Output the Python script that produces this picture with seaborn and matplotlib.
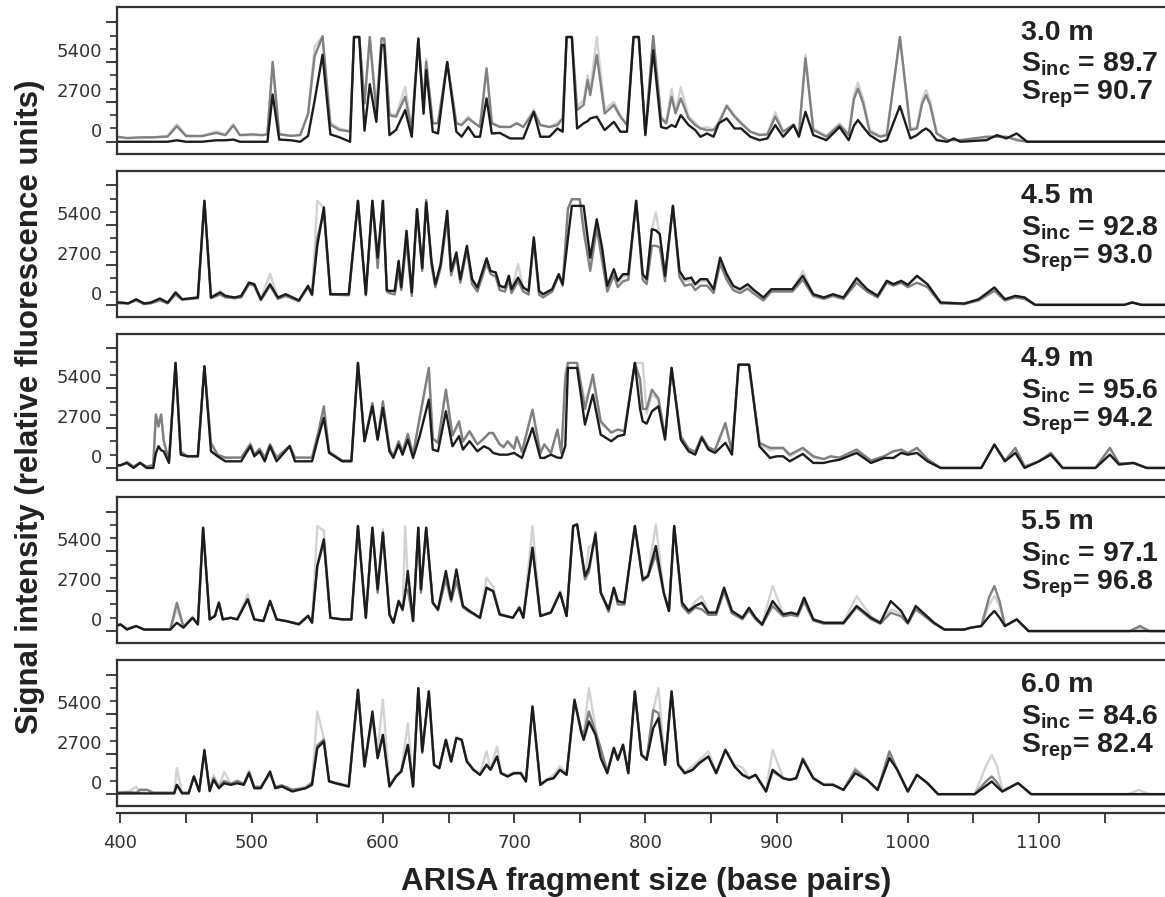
import numpy as np
import pandas as pd
import matplotlib
matplotlib.use("Agg")
import matplotlib.pyplot as plt
import seaborn as sns
from matplotlib.transforms import ScaledTranslation

# ---------------- data ----------------
DEPTHS = ["3.0 m", "4.5 m", "4.9 m", "5.5 m", "6.0 m"]
S_INC = ["89.7", "92.8", "95.6", "97.1", "84.6"]
S_REP = ["90.7", "93.0", "94.2", "96.8", "82.4"]
X_MAJOR = [400, 500, 600, 700, 800, 900, 1000, 1100]
X_MINOR = [450, 550, 650, 750, 850, 950, 1050, 1150]
Y_LABELED = [0, 2700, 5400]
Y_MAJOR = [0, 2700, 5400, 8100]
Y_MINOR = [900, 1800, 3600, 4500, 6300, 7200]
REPLICATES = ["light", "gray", "black"]   # drawing order

# rows: (fragment size bp, black trace, mid-gray trace, light-gray trace)
TRACE_3_0 = [
    (397, 0, 350, 300), (405, 0, 250, 250), (415, 0, 300, 250), (425, 0, 300, 300),
    (436, 0, 350, 400), (443, 100, 1060, 1200), (450, 0, 380, 450), (462, 0, 380, 400),
    (473, 100, 600, 700), (480, 100, 450, 500), (486, 150, 1100, 1200), (491, 0, 450, 450),
    (500, 0, 500, 450), (508, 0, 450, 450), (512, 0, 500, 550), (516, 3200, 5400, 5400),
    (521, 150, 500, 550), (530, 100, 400, 400), (537, 0, 450, 450), (543, 400, 1900, 1900),
    (548, 2800, 5800, 6440), (554, 5900, 7150, 7150), (560, 500, 1150, 1300), (567, 300, 800, 900),
    (575, 0, 700, 700), (578, 7100, 7100, 7100), (582, 7100, 7100, 7100), (586, 750, 2600, 2600),
    (590, 3900, 7100, 7100), (595, 1350, 2000, 2200), (599, 6550, 7000, 7000), (601, 6550, 7000, 7000),
    (605, 450, 1800, 1900), (610, 800, 1700, 1800), (617, 2150, 3050, 3700), (622, 340, 800, 900),
    (627, 7000, 6940, 7000), (631, 1900, 2500, 2500), (633, 4860, 5420, 5600), (638, 680, 1250, 1250),
    (642, 560, 1250, 1300), (649, 5400, 5400, 5400), (656, 680, 1250, 1250), (660, 340, 1130, 1200),
    (665, 1000, 1580, 1700), (670, 340, 1250, 1250), (674, 340, 1000, 1000), (679, 2940, 4970, 4970),
    (683, 560, 1250, 1300), (689, 600, 1000, 1050), (697, 225, 1000, 1000), (702, 225, 1250, 1300),
    (707, 225, 1000, 1000), (715, 2030, 2030, 2200), (720, 340, 1130, 1130), (727, 340, 1000, 1000),
    (733, 900, 1130, 1300), (737, 680, 1580, 1600), (740, 7100, 7100, 7100), (744, 7100, 7100, 7100),
    (748, 900, 2150, 2400), (753, 1250, 2500, 2800), (756, 1400, 4180, 4500), (758, 1580, 3160, 3400),
    (763, 1700, 5880, 7100), (769, 790, 1920, 2200), (776, 1350, 2490, 2700), (781, 680, 1700, 1800),
    (786, 680, 1130, 1130), (791, 7100, 7100, 7100), (795, 7100, 7100, 7100), (800, 450, 560, 600),
    (806, 6200, 7160, 7160), (812, 1000, 1580, 1700), (816, 900, 1250, 1400), (820, 1130, 3050, 3600),
    (823, 1000, 1920, 2000), (827, 1800, 2940, 3680), (833, 1130, 1580, 1700), (838, 790, 1130, 1300),
    (842, 340, 900, 900), (847, 560, 790, 1000), (852, 340, 790, 800), (856, 1250, 1250, 1400),
    (862, 1580, 2420, 2500), (868, 900, 1700, 1800), (873, 900, 1250, 1300), (880, 340, 680, 700),
    (887, 110, 450, 500), (893, 225, 500, 500), (899, 1130, 1700, 2000), (905, 340, 680, 700),
    (913, 1130, 1130, 1200), (917, 340, 450, 500), (922, 2030, 5650, 5900), (928, 450, 790, 900),
    (938, 110, 340, 400), (948, 1000, 1130, 1250), (955, 110, 450, 500), (959, 1100, 2900, 3200),
    (962, 1470, 3600, 4000), (966, 1000, 2600, 2900), (971, 450, 680, 800), (979, 0, 340, 400),
    (984, 110, 450, 500), (994, 2420, 7100, 7100), (1002, 225, 790, 900), (1007, 450, 900, 1000),
    (1011, 750, 2600, 2900), (1014, 900, 3160, 3500), (1017, 700, 2500, 2800), (1022, 110, 560, 600),
    (1030, 0, 110, 100), (1035, 225, 110, 150), (1040, 0, 110, 100), (1060, 110, 340, 300),
    (1068, 450, 340, 350), (1075, 225, 340, 300), (1083, 560, 110, 200), (1091, 0, 0, 0),
    (1196, 0, 0, 0),
]

TRACE_4_5 = [
    (397, 150, 150, 150), (400, 160, 100, 160), (406, 100, 100, 100), (412, 380, 300, 350),
    (418, 100, 50, 100), (423, 150, 100, 150), (430, 430, 300, 400), (436, 150, 100, 150),
    (442, 840, 700, 900), (447, 380, 350, 380), (459, 500, 450, 500), (464, 7050, 7050, 7050),
    (469, 500, 450, 500), (476, 840, 700, 950), (480, 610, 500, 600), (487, 500, 450, 500),
    (492, 610, 500, 600), (498, 1510, 1400, 1500), (502, 1400, 1300, 1400), (507, 380, 300, 400),
    (514, 1400, 1300, 2100), (520, 500, 400, 500), (526, 720, 600, 700), (536, 300, 250, 300),
    (543, 1290, 1200, 1300), (546, 700, 650, 700), (550, 4000, 4500, 7050), (555, 6600, 6300, 6600),
    (560, 720, 700, 750), (574, 720, 650, 700), (581, 7050, 7050, 7050), (587, 720, 650, 700),
    (592, 7050, 7050, 7050), (596, 3200, 2500, 3200), (600, 7050, 7050, 7050), (603, 1000, 900, 1000),
    (605, 950, 800, 900), (609, 950, 700, 900), (612, 2980, 2300, 2980), (614, 1200, 1000, 1100),
    (618, 5020, 4300, 5000), (622, 840, 600, 800), (626, 6490, 6400, 6490), (630, 2500, 2300, 2500),
    (633, 6940, 7100, 7000), (637, 2980, 2700, 2900), (640, 1400, 1200, 1300), (644, 2760, 2500, 2700),
    (649, 6370, 5800, 6300), (652, 2300, 2000, 2300), (656, 3550, 3300, 3500), (659, 1740, 1500, 1700),
    (664, 4000, 3700, 4000), (668, 1740, 1400, 1700), (672, 1180, 900, 1100), (679, 3160, 2800, 3100),
    (682, 2300, 2100, 2300), (686, 2190, 1900, 2200), (689, 1290, 1000, 1200), (693, 1180, 900, 1100),
    (696, 1970, 1700, 2000), (698, 1060, 800, 1000), (703, 1850, 1600, 2760), (707, 1180, 900, 1100),
    (711, 950, 700, 900), (715, 4570, 4400, 4570), (719, 950, 700, 900), (722, 720, 500, 700),
    (729, 1060, 900, 1000), (734, 2080, 2000, 2100), (737, 1400, 1300, 1400), (741, 4500, 6500, 6500),
    (744, 6710, 7160, 7160), (750, 6710, 7160, 7160), (753, 6710, 5000, 5500), (758, 3200, 2300, 2600),
    (763, 5800, 5200, 5500), (767, 3890, 3000, 3500), (771, 1290, 900, 1200), (776, 2420, 2000, 2300),
    (779, 1630, 1200, 1500), (783, 2080, 1600, 1900), (787, 2080, 1700, 2000), (793, 7050, 7050, 7050),
    (798, 2080, 1700, 2000), (801, 1740, 1400, 1700), (805, 5130, 4000, 5130), (808, 5050, 4000, 6260),
    (811, 4800, 3900, 4700), (815, 1970, 1600, 1900), (821, 6710, 6710, 6710), (826, 2300, 1900, 2200),
    (830, 1740, 1300, 1600), (835, 1850, 1400, 1700), (838, 1400, 1000, 1300), (842, 1740, 1300, 1600),
    (847, 1740, 1300, 1600), (852, 1060, 800, 1000), (857, 3200, 2800, 3100), (862, 2080, 1700, 2000),
    (867, 1290, 1000, 1200), (872, 1060, 800, 1000), (878, 1400, 1100, 1300), (882, 1060, 800, 1000),
    (890, 500, 300, 400), (896, 1060, 900, 1000), (903, 1060, 900, 1000), (912, 1060, 900, 1000),
    (920, 1970, 1700, 2300), (928, 720, 600, 700), (936, 500, 400, 500), (943, 720, 600, 700),
    (951, 500, 400, 500), (961, 1810, 1500, 1700), (969, 1060, 900, 1000), (977, 610, 500, 600),
    (984, 1630, 1500, 1630), (989, 1400, 1300, 1400), (995, 1630, 1500, 1600), (1000, 1350, 1200, 1350),
    (1007, 1970, 1500, 1900), (1015, 1400, 1200, 1400), (1025, 160, 100, 150), (1043, 90, 50, 90),
    (1054, 380, 300, 350), (1066, 1180, 950, 1100), (1074, 380, 300, 380), (1082, 610, 500, 600),
    (1089, 500, 400, 500), (1097, 0, 0, 0), (1165, 0, 0, 0), (1171, 160, 160, 160),
    (1178, 0, 0, 0), (1196, 0, 0, 0),
]

TRACE_4_9 = [
    (397, 180, 180, 180), (400, 180, 180, 200), (405, 340, 400, 350), (410, 0, 100, 50),
    (415, 340, 350, 350), (420, 0, 100, 50), (425, 0, 200, 100), (427, 1000, 3620, 3620),
    (429, 1470, 2800, 3000), (431, 1200, 3620, 3620), (433, 1130, 1800, 1900), (437, 340, 500, 500),
    (442, 7120, 7120, 7120), (446, 900, 1100, 1000), (451, 790, 800, 800), (459, 790, 800, 800),
    (464, 6890, 6890, 6890), (469, 1130, 1700, 1500), (474, 790, 900, 900), (480, 450, 700, 700),
    (492, 450, 700, 700), (499, 1470, 1600, 1700), (502, 790, 900, 900), (506, 1130, 1300, 1300),
    (510, 450, 700, 700), (514, 1470, 1600, 1600), (519, 450, 700, 700), (529, 1470, 1500, 1500),
    (533, 450, 700, 700), (546, 450, 700, 700), (551, 2150, 2500, 2400), (555, 3390, 4180, 4000),
    (559, 1020, 1100, 1100), (569, 450, 500, 500), (576, 450, 500, 500), (581, 7120, 7120, 7120),
    (586, 1810, 1810, 1810), (592, 4180, 4400, 4300), (596, 1920, 1920, 1920), (600, 4070, 4520, 4400),
    (605, 1130, 1300, 1300), (608, 680, 800, 800), (612, 1580, 1800, 1800), (615, 900, 1100, 1100),
    (619, 1920, 2300, 2200), (623, 680, 900, 900), (628, 2150, 3390, 3300), (635, 4630, 6780, 6780),
    (638, 1250, 2000, 2000), (642, 1130, 1700, 1700), (648, 3840, 5310, 5310), (653, 1470, 2200, 2200),
    (658, 2150, 3160, 3000), (661, 1250, 1800, 1800), (666, 1810, 2490, 2400), (672, 1130, 1600, 1600),
    (677, 1470, 2000, 2000), (681, 1300, 2370, 2370), (684, 1020, 2370, 2300), (689, 900, 1600, 1600),
    (692, 900, 1400, 1500), (695, 900, 1800, 1800), (700, 1020, 1300, 1400), (702, 900, 2100, 2100),
    (706, 680, 1100, 1100), (714, 2710, 3950, 3950), (720, 680, 1000, 1000), (723, 680, 1600, 1600),
    (728, 900, 1000, 1000), (733, 700, 2600, 2600), (736, 680, 1000, 1000), (739, 1500, 6000, 6500),
    (741, 6780, 7120, 7120), (748, 6780, 7120, 7120), (754, 2940, 4000, 4500), (760, 4970, 6330, 6000),
    (766, 2260, 3160, 3000), (774, 1810, 2400, 2400), (779, 2150, 2600, 2600), (784, 2260, 2490, 2500),
    (792, 7120, 7120, 7120), (796, 4000, 6000, 7120), (798, 3160, 4000, 7120), (801, 3000, 4000, 3700),
    (805, 3840, 5310, 5000), (810, 4180, 4700, 4600), (815, 1920, 2100, 2100), (820, 6780, 6780, 6780),
    (827, 1920, 2150, 2100), (833, 1130, 1300, 1300), (838, 900, 1100, 1100), (843, 2030, 2150, 2100),
    (848, 1250, 1400, 1400), (853, 1020, 1200, 1200), (861, 1700, 3050, 2900), (866, 900, 1100, 1100),
    (871, 7000, 7000, 7000), (879, 7000, 7000, 7000), (887, 1470, 1700, 1600), (895, 680, 1360, 1200),
    (900, 790, 1360, 1300), (905, 790, 1360, 1300), (910, 450, 900, 800), (920, 950, 1360, 1300),
    (928, 340, 790, 700), (936, 340, 600, 600), (941, 450, 790, 750), (948, 560, 700, 700),
    (961, 1020, 1250, 1200), (972, 340, 500, 500), (982, 680, 800, 800), (989, 680, 1130, 1100),
    (995, 1020, 1250, 1200), (1000, 900, 1000, 1000), (1007, 1020, 1360, 1300), (1015, 450, 600, 600),
    (1025, 0, 0, 0), (1056, 0, 0, 0), (1066, 1580, 1580, 1580), (1074, 450, 500, 500),
    (1082, 1020, 1360, 1300), (1089, 0, 100, 100), (1100, 450, 450, 450), (1109, 900, 1020, 1000),
    (1118, 0, 0, 0), (1143, 0, 0, 0), (1154, 900, 1360, 1300), (1161, 230, 300, 300),
    (1172, 340, 340, 340), (1182, 0, 0, 0), (1196, 0, 0, 0),
]

TRACE_5_5 = [
    (397, 340, 400, 400), (400, 450, 450, 450), (405, 100, 150, 150), (412, 340, 340, 340),
    (418, 100, 100, 100), (438, 100, 100, 100), (443, 560, 1920, 1500), (448, 230, 300, 300),
    (455, 900, 900, 1000), (459, 450, 450, 450), (463, 7000, 7000, 7000), (468, 790, 790, 800),
    (472, 1020, 1020, 1100), (475, 1920, 1920, 2000), (478, 790, 790, 800), (484, 900, 900, 900),
    (489, 790, 790, 800), (497, 2150, 2150, 2500), (502, 790, 790, 800), (509, 680, 680, 700),
    (514, 2030, 2030, 2100), (519, 790, 790, 800), (526, 680, 680, 700), (536, 450, 500, 500),
    (543, 1020, 1020, 1100), (546, 560, 600, 600), (550, 4400, 4400, 7120), (555, 6220, 6000, 6800),
    (560, 900, 900, 900), (569, 790, 790, 800), (576, 790, 790, 800), (581, 7120, 7120, 7120),
    (587, 900, 900, 900), (592, 7000, 7000, 7000), (596, 2830, 2600, 2900), (600, 6670, 6670, 6900),
    (605, 1130, 1100, 1200), (608, 560, 560, 600), (612, 2030, 2000, 2100), (615, 1470, 1400, 1500),
    (617, 2500, 2800, 7100), (619, 4070, 2800, 3500), (623, 680, 680, 700), (627, 7000, 7000, 7000),
    (629, 2830, 2600, 2800), (633, 7000, 7000, 7000), (638, 1920, 1920, 1900), (642, 1470, 1400, 1500),
    (648, 4070, 3500, 3700), (652, 2150, 2000, 2100), (656, 4180, 3400, 3500), (661, 1700, 1600, 1700),
    (666, 1360, 1300, 1400), (674, 900, 900, 900), (679, 2940, 2900, 3610), (684, 2710, 2700, 3000),
    (689, 1130, 1100, 1200), (699, 900, 900, 900), (704, 1580, 1580, 1700), (707, 900, 900, 900),
    (714, 5650, 5650, 7100), (720, 1020, 1020, 1100), (728, 1250, 1250, 1300), (735, 2600, 2600, 2700),
    (740, 1020, 1020, 1100), (745, 7120, 7120, 7120), (748, 7230, 7230, 7230), (754, 3730, 3500, 3700),
    (757, 4290, 4000, 5700), (762, 6560, 6700, 6000), (766, 2600, 2600, 2700), (772, 1470, 1300, 1500),
    (776, 2940, 2900, 2940), (779, 2030, 1800, 2000), (784, 1920, 1800, 1900), (792, 7120, 7120, 7120),
    (798, 3500, 3400, 3600), (802, 3730, 3700, 3800), (808, 5760, 5200, 7230), (814, 2600, 2600, 2700),
    (818, 1360, 1360, 1400), (822, 7120, 7120, 7120), (828, 1920, 1700, 1800), (833, 1360, 1200, 1400),
    (838, 1700, 1600, 2000), (843, 1920, 1470, 2370), (848, 1250, 1100, 1300), (854, 1250, 1100, 1300),
    (860, 2940, 2700, 2800), (866, 1360, 1200, 1300), (874, 900, 800, 900), (879, 1580, 1400, 1500),
    (884, 900, 800, 900), (889, 450, 400, 500), (897, 2030, 1700, 3050), (905, 1130, 1000, 1200),
    (911, 1250, 1100, 1200), (916, 1130, 1000, 1100), (921, 2260, 2000, 2300), (928, 790, 700, 800),
    (936, 560, 500, 600), (951, 560, 500, 600), (961, 1700, 1600, 2370), (972, 900, 800, 1000),
    (979, 560, 500, 600), (987, 2030, 1240, 1470), (995, 1360, 1000, 1200), (1000, 560, 500, 600),
    (1006, 1700, 1470, 1500), (1013, 1130, 1000, 1100), (1020, 560, 500, 600), (1028, 100, 100, 100),
    (1043, 100, 100, 100), (1048, 230, 230, 230), (1056, 340, 340, 340), (1062, 1000, 2300, 1800),
    (1066, 1360, 3050, 2370), (1070, 900, 2000, 1700), (1074, 340, 340, 340), (1083, 790, 790, 790),
    (1092, 0, 0, 0), (1169, 0, 0, 0), (1177, 0, 340, 200), (1184, 0, 0, 0), (1196, 0, 0, 0),
]

TRACE_6_0 = [
    (397, 50, 100, 50), (405, 50, 150, 100), (412, 50, 100, 500), (415, 50, 300, 100),
    (420, 50, 300, 300), (425, 50, 100, 100), (441, 50, 100, 100), (443, 630, 630, 1760),
    (447, 50, 100, 100), (452, 50, 100, 100), (456, 1200, 1200, 1200), (460, 200, 200, 200),
    (464, 3000, 2800, 2800), (468, 200, 300, 300), (471, 970, 1100, 1300), (475, 400, 500, 500),
    (479, 740, 900, 1500), (484, 630, 700, 700), (489, 740, 900, 900), (494, 630, 700, 700),
    (498, 1420, 1500, 1600), (502, 400, 500, 500), (507, 400, 500, 500), (514, 1540, 1400, 1400),
    (518, 400, 500, 500), (523, 520, 600, 600), (531, 180, 300, 300), (541, 400, 400, 500),
    (546, 630, 800, 800), (550, 3120, 3300, 5600), (555, 3570, 3700, 3800), (559, 860, 900, 900),
    (564, 740, 740, 800), (574, 520, 520, 600), (581, 7070, 7070, 7070), (586, 1880, 1880, 1900),
    (592, 5600, 5300, 5200), (596, 2440, 2440, 3000), (600, 4020, 4020, 6400), (605, 520, 520, 600),
    (610, 1200, 1200, 1300), (614, 1540, 1540, 1600), (619, 3340, 3340, 4800), (623, 520, 520, 600),
    (627, 7180, 7180, 7180), (630, 2900, 2800, 2800), (635, 6960, 6960, 6960), (639, 1990, 1990, 2000),
    (643, 1760, 1760, 1800), (648, 3680, 3680, 3700), (652, 2210, 2210, 2300), (656, 3800, 3800, 3900),
    (660, 3680, 3680, 3700), (664, 2210, 2210, 2300), (669, 1650, 1650, 1700), (674, 1310, 1310, 1400),
    (679, 1990, 1990, 2900), (682, 1650, 1650, 1700), (687, 2550, 2550, 3230), (690, 1420, 1420, 1500),
    (695, 1200, 1200, 1300), (700, 1420, 1420, 1500), (705, 1420, 1420, 1500), (709, 860, 860, 900),
    (714, 5940, 5940, 5940), (720, 630, 630, 700), (725, 970, 970, 1000), (730, 1080, 1080, 1300),
    (735, 1650, 1650, 1900), (740, 1310, 1310, 1400), (746, 6400, 6300, 6400), (751, 4250, 4400, 4300),
    (753, 3680, 4000, 4000), (757, 4930, 5600, 7180), (762, 4020, 4200, 4500), (766, 2440, 3100, 3000),
    (771, 1420, 1500, 1600), (776, 3120, 3120, 3230), (779, 2330, 2330, 2400), (783, 3340, 3340, 3400),
    (787, 1420, 1420, 1500), (792, 6960, 6960, 6960), (797, 2670, 2670, 2700), (801, 2330, 2330, 2400),
    (806, 4480, 5700, 5700), (810, 5150, 5500, 7180), (815, 1990, 1990, 2100), (820, 6960, 6960, 6960),
    (825, 1990, 1990, 2100), (830, 1420, 1420, 1500), (836, 1650, 1650, 1900), (841, 2100, 2100, 2300),
    (848, 2550, 2550, 2900), (854, 1420, 1420, 1500), (861, 3000, 3000, 3000), (868, 1870, 1870, 2000),
    (874, 1310, 1310, 1800), (879, 1080, 1080, 1100), (884, 1310, 1310, 1300), (892, 180, 180, 300),
    (897, 1650, 1540, 3000), (905, 1080, 1080, 1100), (910, 970, 970, 1000), (915, 1080, 1080, 1100),
    (920, 2330, 2440, 2300), (928, 1080, 1080, 1100), (936, 630, 630, 700), (943, 630, 630, 700),
    (951, 290, 290, 300), (960, 1420, 1650, 1760), (969, 970, 970, 1000), (977, 290, 290, 300),
    (986, 2440, 2900, 2640), (992, 1650, 1650, 1700), (1000, 180, 180, 200), (1007, 1310, 1310, 1310),
    (1015, 740, 740, 800), (1023, 0, 0, 0), (1051, 0, 0, 0), (1060, 600, 900, 2000),
    (1064, 860, 1200, 2640), (1068, 500, 800, 1900), (1072, 180, 180, 300), (1084, 750, 750, 750),
    (1094, 0, 0, 0), (1168, 0, 0, 0), (1176, 0, 0, 290), (1184, 0, 0, 0), (1196, 0, 0, 0),
]

TRACES = [TRACE_3_0, TRACE_4_5, TRACE_4_9, TRACE_5_5, TRACE_6_0]

# ---------------- style ----------------
sns.set_style("white")
plt.rcParams["font.family"] = ["DejaVu Sans"]
plt.rcParams["mathtext.fontset"] = "custom"
plt.rcParams["mathtext.rm"] = "Liberation Sans:bold"
plt.rcParams["mathtext.it"] = "Liberation Sans:bold"
plt.rcParams["mathtext.bf"] = "Liberation Sans:bold"
plt.rcParams["mathtext.default"] = "rm"

PALETTE = {"light": "#d2d2d2", "gray": "#808080", "black": "#1c1c1c"}
FRAME = "#333333"
W, H = 1165, 897
fig = plt.figure(figsize=(W / 100, H / 100), dpi=100)
fig.patch.set_facecolor("white")


def px_axes(left, top, right, bottom):
    return fig.add_axes([left / W, 1 - bottom / H, (right - left) / W, (bottom - top) / H])


XLIM = (397.0, 1196.0)
YLIM = (-830, 9100)
LEFT, RIGHT = 116.5, 1165
PANEL_H, STEP, TOP0 = 146.5, 163.1, 7.5

for i, rows in enumerate(TRACES):
    top = TOP0 + STEP * i
    ax = px_axes(LEFT, top, RIGHT, top + PANEL_H)
    df = pd.DataFrame(rows, columns=["bp", "black", "gray", "light"])
    long = df.melt(id_vars="bp", var_name="rep", value_name="rfu")
    sns.lineplot(data=long, x="bp", y="rfu", hue="rep", hue_order=REPLICATES,
                 palette=PALETTE, estimator=None, sort=False, linewidth=1.7,
                 legend=False, ax=ax)
    ax.set_xlim(*XLIM)
    ax.set_ylim(*YLIM)
    ax.set_xlabel("")
    ax.set_ylabel("")
    ax.set_xticks([])
    ax.set_yticks(Y_MAJOR)
    ax.set_yticks(Y_MINOR, minor=True)
    ax.set_yticklabels([])
    ax.tick_params(axis="y", which="major", direction="out", length=8, width=1.3,
                   color=FRAME, left=True)
    ax.tick_params(axis="y", which="minor", direction="out", length=5, width=1.2,
                   color=FRAME, left=True)
    for side in ("left", "top", "bottom"):
        ax.spines[side].set_color(FRAME)
        ax.spines[side].set_linewidth(1.6)
    ax.spines["right"].set_visible(False)

    # tick labels sit slightly above their ticks in the original
    trans = ax.get_yaxis_transform() + ScaledTranslation(-0.148, 0.10, fig.dpi_scale_trans)
    for v in Y_LABELED:
        ax.text(0, v, str(v), transform=trans, ha="right", va="center",
                fontsize=13, color="#333333")

    # panel annotation
    kw = dict(transform=ax.transAxes, ha="left", va="baseline", fontsize=20.5,
              fontweight="bold", family="Liberation Sans", color="#222222")
    xa = (1021 - LEFT) / (RIGHT - LEFT)
    ax.text(xa, 1 - 32.5 / PANEL_H, DEPTHS[i], **kw)
    ax.text(xa, 1 - 64.5 / PANEL_H, r"S$_{\mathrm{inc}}$ = " + S_INC[i], **kw)
    ax.text(xa, 1 - 92.5 / PANEL_H, r"S$_{\mathrm{rep}}$= " + S_REP[i], **kw)

# shared x axis below the panels
axx = fig.add_axes([LEFT / W, (H - 813) / H, (RIGHT - LEFT) / W, 0.0001])
axx.patch.set_visible(False)
axx.set_xlim(*XLIM)
axx.set_yticks([])
axx.set_xticks(X_MAJOR)
axx.set_xticklabels([str(v) for v in X_MAJOR])
axx.set_xticks(X_MINOR, minor=True)
axx.tick_params(axis="x", which="both", direction="out", length=7, width=1.3,
                color=FRAME, labelsize=13, labelcolor="#333333", pad=8, bottom=True)
for side in ("left", "right", "top"):
    axx.spines[side].set_visible(False)
axx.spines["bottom"].set_color(FRAME)
axx.spines["bottom"].set_linewidth(1.6)

fig.text(646 / W, 1 - 890 / H, "ARISA fragment size (base pairs)", ha="center",
         va="baseline", fontsize=22.5, fontweight="bold", family="Liberation Sans",
         color="#222222")
fig.text(30.5 / W, 1 - 407 / H, "Signal intensity (relative fluorescence units)",
         rotation=90, ha="center", va="center", fontsize=22.5, fontweight="bold",
         family="Liberation Sans", color="#222222")

fig.savefig("out.png", dpi=100, facecolor="white")
